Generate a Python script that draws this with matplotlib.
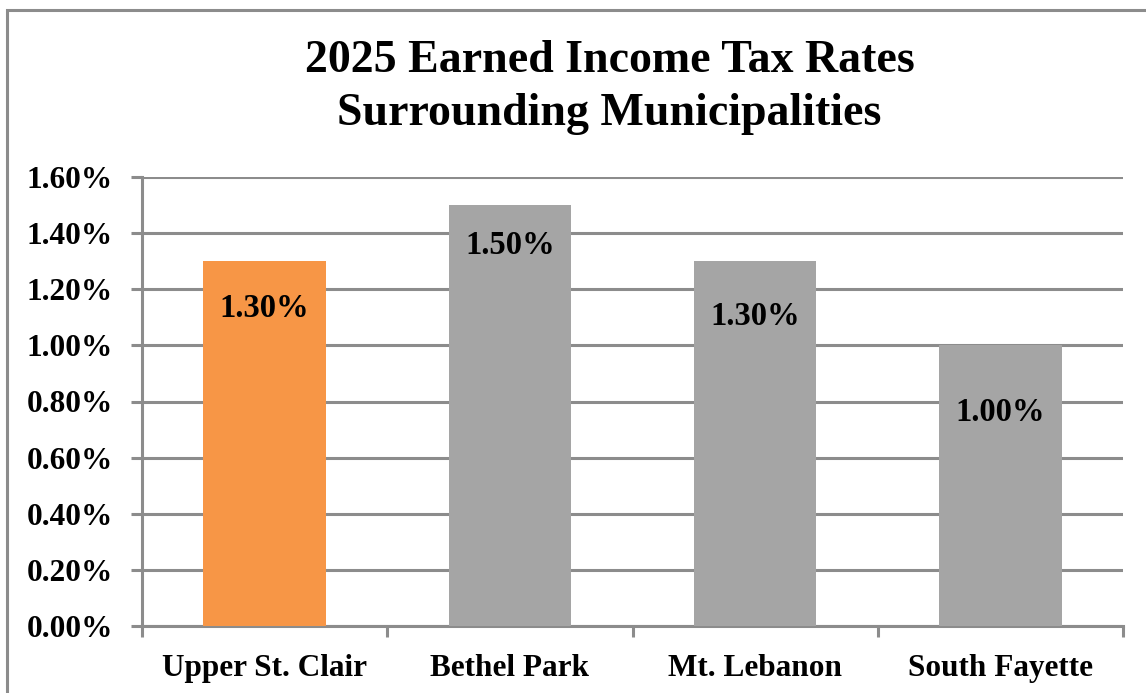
import matplotlib
matplotlib.use("Agg")
import matplotlib.pyplot as plt
from matplotlib.patches import Rectangle
from matplotlib.ticker import FuncFormatter

# Earned income tax rates (percent) by municipality
municipalities = ["Upper St. Clair", "Bethel Park", "Mt. Lebanon", "South Fayette"]
rates = [1.30, 1.50, 1.30, 1.00]
bar_colors = ["#F79646", "#A5A5A5", "#A5A5A5", "#A5A5A5"]
label_drop_pt = [34, 29, 40, 48]  # how far each value label sits below its bar top
title_lines = ["2025 Earned Income Tax Rates", "Surrounding Municipalities"]
y_ticks = [0.0, 0.2, 0.4, 0.6, 0.8, 1.0, 1.2, 1.4, 1.6]

plt.rcParams["font.family"] = ["Liberation Serif", "DejaVu Serif"]
plt.rcParams["font.weight"] = "bold"

grid_color = "#8C8C8C"

fig = plt.figure(figsize=(11.46, 6.93), dpi=100)
fig.patch.set_facecolor("white")

# chart-area frame (clipped at the right and bottom edges)
fig.add_artist(Rectangle((7 / 1146, -0.1), 1.2, 1.1 - 10 / 693,
                         transform=fig.transFigure, fill=False,
                         edgecolor=grid_color, linewidth=2.2))

ax = fig.add_axes([142 / 1146, 1 - 626 / 693, (1123 - 142) / 1146, (626 - 177) / 693])

x = list(range(len(municipalities)))
ax.bar(x, rates, width=0.5, color=bar_colors, zorder=3)

ax.set_xlim(-0.5, len(municipalities) - 0.5)
ax.set_ylim(0, 1.6)
ax.set_yticks(y_ticks)
ax.yaxis.set_major_formatter(FuncFormatter(lambda v, _: f"{v:.2f}%"))
ax.yaxis.grid(True, color=grid_color, linewidth=2.2, zorder=0)
ax.set_axisbelow(True)

# category ticks sit on the boundaries between groups
ax.set_xticks([i - 0.5 for i in range(len(municipalities) + 1)])
ax.set_xticklabels([])
ax.set_xticks(x, minor=True)
ax.set_xticklabels(municipalities, minor=True, fontsize=22.5, fontweight="bold")
ax.tick_params(axis="x", which="minor", length=0, pad=20)
ax.tick_params(axis="x", which="major", length=8, width=2.2, color=grid_color, direction="out")
ax.tick_params(axis="y", length=8, width=2.2, color=grid_color, pad=13, labelsize=22.5)
for lbl in ax.get_yticklabels():
    lbl.set_fontweight("bold")

for side in ("top", "right"):
    ax.spines[side].set_visible(False)
for side in ("left", "bottom"):
    ax.spines[side].set_color(grid_color)
    ax.spines[side].set_linewidth(2.2)

for xi, r, drop in zip(x, rates, label_drop_pt):
    ax.annotate(f"{r:.2f}%", xy=(xi, r), xytext=(0, -drop), textcoords="offset points",
                ha="center", va="center", fontsize=23.5, fontweight="bold", zorder=4)

fig.text(0.532, 1 - 61 / 693, title_lines[0], ha="center", va="center",
         fontsize=33, fontweight="bold")
fig.text(0.532, 1 - 114 / 693, title_lines[1], ha="center", va="center",
         fontsize=33, fontweight="bold")

fig.savefig("out.png", dpi=100, facecolor="white")
